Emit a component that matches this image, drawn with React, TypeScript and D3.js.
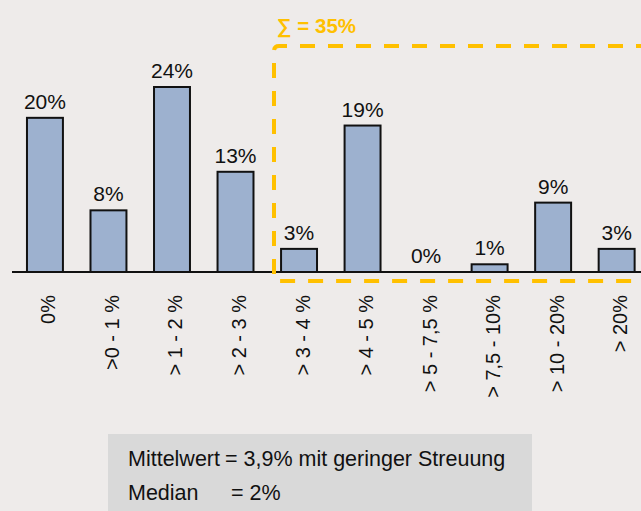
import React from "react";
import * as d3 from "d3";

const categories = ["0%", ">0 - 1 %", "> 1 - 2 %", "> 2 - 3 %", "> 3 - 4 %", "> 4 - 5 %", "> 5 - 7,5 %", "> 7,5 - 10%", "> 10 - 20%", "> 20%"];
const shares = [20, 8, 24, 13, 3, 19, 0, 1, 9, 3];
const sumLabel = "∑ = 35%";
const summaryLabels = ["Mittelwert", "Median"];
const summaryValues = ["= 3,9% mit geringer Streuung", "= 2%"];

const W = 641;
const H = 511;
const baseY = 272;
const font = "'Liberation Sans', Arial, sans-serif";

export default function App() {
  const x = d3.scaleBand<string>().domain(categories).range([13, 648.6]).paddingInner(0.434).paddingOuter(0.22);
  const y = d3.scaleLinear().domain([0, 24]).range([baseY, 87]);
  const bw = x.bandwidth();

  return (
    <svg width={W} height={H} style={{ position: "absolute", left: 0, top: 0, display: "block" }} fontFamily={font}>
      <rect width={W} height={H} fill="#EEEBEA" />
      {categories.map((c, i) => {
        const v = shares[i];
        const bx = x(c)!;
        const cx = bx + bw / 2;
        return (
          <g key={c}>
            {v > 0 && (
              <rect x={bx} y={y(v)} width={bw} height={baseY - y(v)} fill="#9DB1CF" stroke="#111" strokeWidth={2} />
            )}
            <text x={cx} y={y(v) - 9} textAnchor="middle" fontSize={21} fill="#111">{v}%</text>
            <text transform={`translate(${cx + 10.5},295) rotate(-90)`} textAnchor="end" fontSize={20} fill="#111">{c}</text>
          </g>
        );
      })}
      <line x1={12} x2={W} y1={baseY} y2={baseY} stroke="#111" strokeWidth={2} />
      <path d={`M${W + 10},46 H279 Q274,46 274,51 V281 H${W + 10}`} fill="none" stroke="#FFC000" strokeWidth={4} strokeDasharray="15 13" />
      <text x={277} y={33} fontSize={20.5} fontWeight="bold" fill="#FFC000">{sumLabel}</text>
      <rect x={108} y={434} width={424} height={H - 434} fill="#D9D9D9" />
      {summaryLabels.map((l, i) => (
        <g key={l}>
          <text x={128} y={466 + i * 34} fontSize={21.5} fill="#111">{l}</text>
          <text x={i === 0 ? 225 : 231} y={466 + i * 34} fontSize={21.5} fill="#111">{summaryValues[i]}</text>
        </g>
      ))}
    </svg>
  );
}
